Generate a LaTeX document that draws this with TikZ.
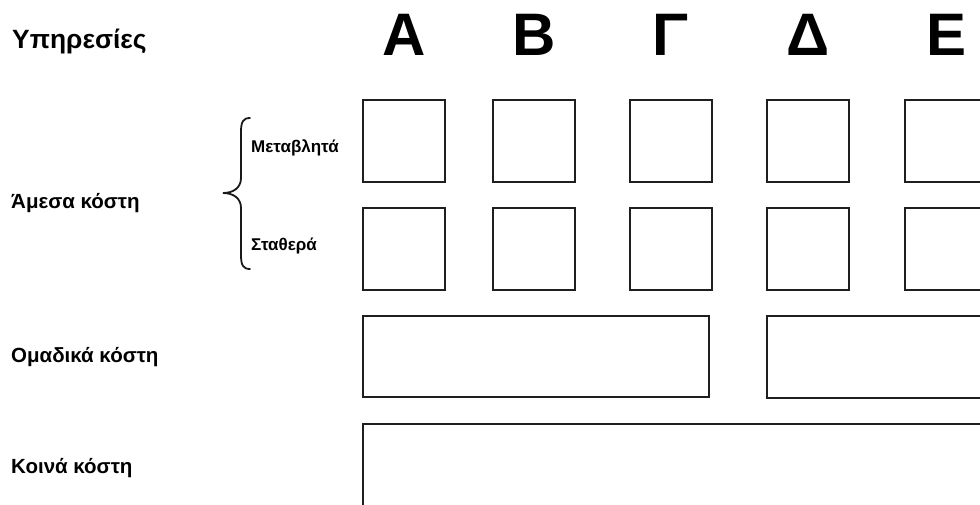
\documentclass[tikz,border=0pt]{standalone}
\usepackage{fontspec}
\setmainfont{Liberation Sans}
\begin{document}
\begin{tikzpicture}[x=1pt,y=-1pt,
  box/.style={draw=black!88,line width=2pt,inner sep=0pt,outer sep=0pt},
  sq/.style={box,minimum width=82pt,minimum height=82pt},
  lbl/.style={anchor=base west,inner sep=0pt,font=\bfseries\fontsize{20.5}{24}\selectfont},
  sublbl/.style={anchor=base west,inner sep=0pt,font=\bfseries\fontsize{17}{20}\selectfont},
  col/.style={anchor=base,inner sep=0pt,font=\bfseries\fontsize{60}{66}\selectfont}]
\useasboundingbox (0,0) rectangle (980,504);
\clip (0,0) rectangle (980,504);
\fill[white] (0,0) rectangle (980,504);
% titles
\node[lbl,font=\bfseries\fontsize{26.4}{30}\selectfont] (yp) at (12,48) {Υπηρεσίες};
\node[col] (cA) at (404,55) {Α};
\node[col] (cB) at (534,55) {Β};
\node[col] (cG) at (671,55) {Γ};
\node[col] (cD) at (808,55) {Δ};
\node[col] (cE) at (946,55) {Ε};
% left labels
\node[lbl] (am) at (11,208) {Άμεσα κόστη};
\node[sublbl] (met) at (251,152) {Μεταβλητά};
\node[sublbl] (sta) at (251,250) {Σταθερά};
\node[lbl] (om) at (11,362) {Ομαδικά κόστη};
\node[lbl] (ko) at (11,473) {Κοινά κόστη};
% brace
\coordinate (bt) at (250,118);
\coordinate (bm) at (223,193);
\coordinate (bb) at (250,269);
\draw[line width=1.8pt,line cap=round,black!90]
  (bt) .. controls (243,118) and (241,122) .. (241,132)
  -- (241,178) .. controls (241,188) and (233,193) .. (bm)
  .. controls (233,193) and (241,198) .. (241,208)
  -- (241,255) .. controls (241,265) and (243,269) .. (bb);
% squares
\foreach \n/\x in {A/404,B/534,G/671,D/808,E/946}{
  \node[sq] (v\n) at (\x,140.5) {};
  \node[sq] (f\n) at (\x,248.5) {};
}
% group boxes
\node[box,minimum width=346pt,minimum height=81pt] (g1) at (536,356.5) {};
\node[box,minimum width=240pt,minimum height=82pt] (g2) at (887,357) {};
% common box
\node[box,minimum width=640pt,minimum height=110pt] (c1) at (683,479) {};
\end{tikzpicture}
\end{document}
